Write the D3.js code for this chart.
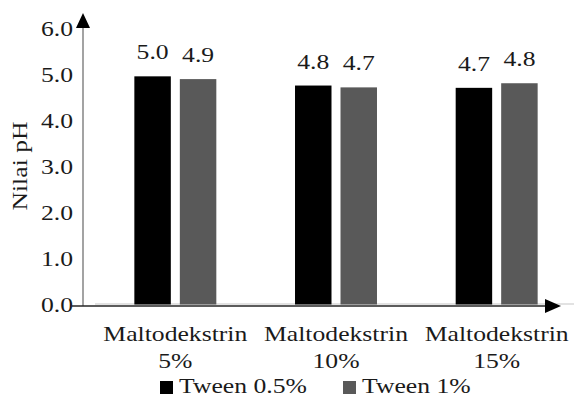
<!DOCTYPE html>
<html>
<head>
<meta charset="utf-8">
<script src="https://cdn.jsdelivr.net/npm/d3@7"></script>
<style>
  html, body { margin: 0; padding: 0; background: #ffffff; }
  svg { display: block; }
  text { font-family: "Liberation Serif", "Times New Roman", Tinos, "Nimbus Roman", FreeSerif, serif; }
</style>
</head>
<body>
<svg id="chart" width="574" height="398"></svg>
<script>
const categories = ["Maltodekstrin 5%", "Maltodekstrin 10%", "Maltodekstrin 15%"];
const series = ["Tween 0.5%", "Tween 1%"];
const tween05 = [4.96, 4.76, 4.71];
const tween1 = [4.90, 4.72, 4.81];
const yTicks = [0, 1, 2, 3, 4, 5, 6];
const colors = ["#000000", "#595959"];

const values = [tween05, tween1];
const data = categories.map((c, i) => ({ cat: c, vals: series.map((s, j) => ({ s, j, v: values[j][i] })) }));

const svg = d3.select("#chart");
const FS = 21, TXT = "#1a1a1a";

// horizontal stretch so that "Maltodekstrin" is ~144px wide whatever serif font is present
const probe = svg.append("text").attr("font-size", FS).text("Maltodekstrin");
const SX = 144 / probe.node().getComputedTextLength();
probe.remove();

const x0 = d3.scaleBand().domain(categories).range([95, 577]).paddingInner(0).paddingOuter(0);
const x1 = d3.scaleBand().domain(series).range([0, x0.bandwidth()]).paddingInner(0.198).paddingOuter(0.865);
const y = d3.scaleLinear().domain([0, 6]).range([304.5, 28.5]);
const fmt = d3.format(".1f");

function label(parent, x, yy, txt, anchor, rot) {
  const g = parent.append("g").attr("transform", `translate(${x},${yy})` + (rot ? ` rotate(${rot})` : ""));
  g.append("text").attr("transform", `scale(${SX},1)`)
    .attr("text-anchor", anchor).attr("font-size", FS)
    .attr("fill", TXT).text(txt);
  return g;
}

// light plot-area baseline
svg.append("line").attr("x1", 95).attr("x2", 574).attr("y1", 304).attr("y2", 304)
  .attr("stroke", "#d9d9d9").attr("stroke-width", 1.5);

// bars
const groups = svg.selectAll("g.grp").data(data).join("g").attr("class", "grp")
  .attr("transform", d => `translate(${x0(d.cat)},0)`);
groups.selectAll("rect").data(d => d.vals).join("rect")
  .attr("x", d => x1(d.s)).attr("width", x1.bandwidth())
  .attr("y", d => y(d.v)).attr("height", d => y(0) - y(d.v))
  .attr("fill", d => colors[d.j]);

// value labels
data.forEach(d => d.vals.forEach(b => {
  label(svg, x0(d.cat) + x1(b.s) + x1.bandwidth() / 2, y(b.v) - 17, fmt(b.v), "middle");
}));

// y axis (gray) with arrow
svg.append("line").attr("x1", 83).attr("x2", 83).attr("y1", 26).attr("y2", 306)
  .attr("stroke", "#858585").attr("stroke-width", 1.5);
svg.append("path").attr("d", "M83,13 L76,28 L90,28 Z").attr("fill", "#000");

// x axis (dark) with arrow
svg.append("line").attr("x1", 72).attr("x2", 548).attr("y1", 306).attr("y2", 306)
  .attr("stroke", "#262626").attr("stroke-width", 1.3);
svg.append("path").attr("d", "M561,306 L545,299 L545,313 Z").attr("fill", "#000");

// y tick labels
yTicks.forEach(t => {
  label(svg, 73, y(t) + 7.5, fmt(t), "end");
});

// y axis title
label(svg, 27, 166, "Nilai pH", "middle", -90);

// category labels (two lines)
categories.forEach(c => {
  const cx = x0(c) + x0.bandwidth() / 2;
  const parts = c.split(" ");
  label(svg, cx, 341, parts[0], "middle");
  label(svg, cx, 368, parts[1], "middle");
});

// legend
const legendX = [160, 343];
series.forEach((s, j) => {
  svg.append("rect").attr("x", legendX[j]).attr("y", 381).attr("width", 13).attr("height", 13)
    .attr("fill", colors[j]);
  label(svg, legendX[j] + 19, 393, s, "start");
});
</script>
</body>
</html>
